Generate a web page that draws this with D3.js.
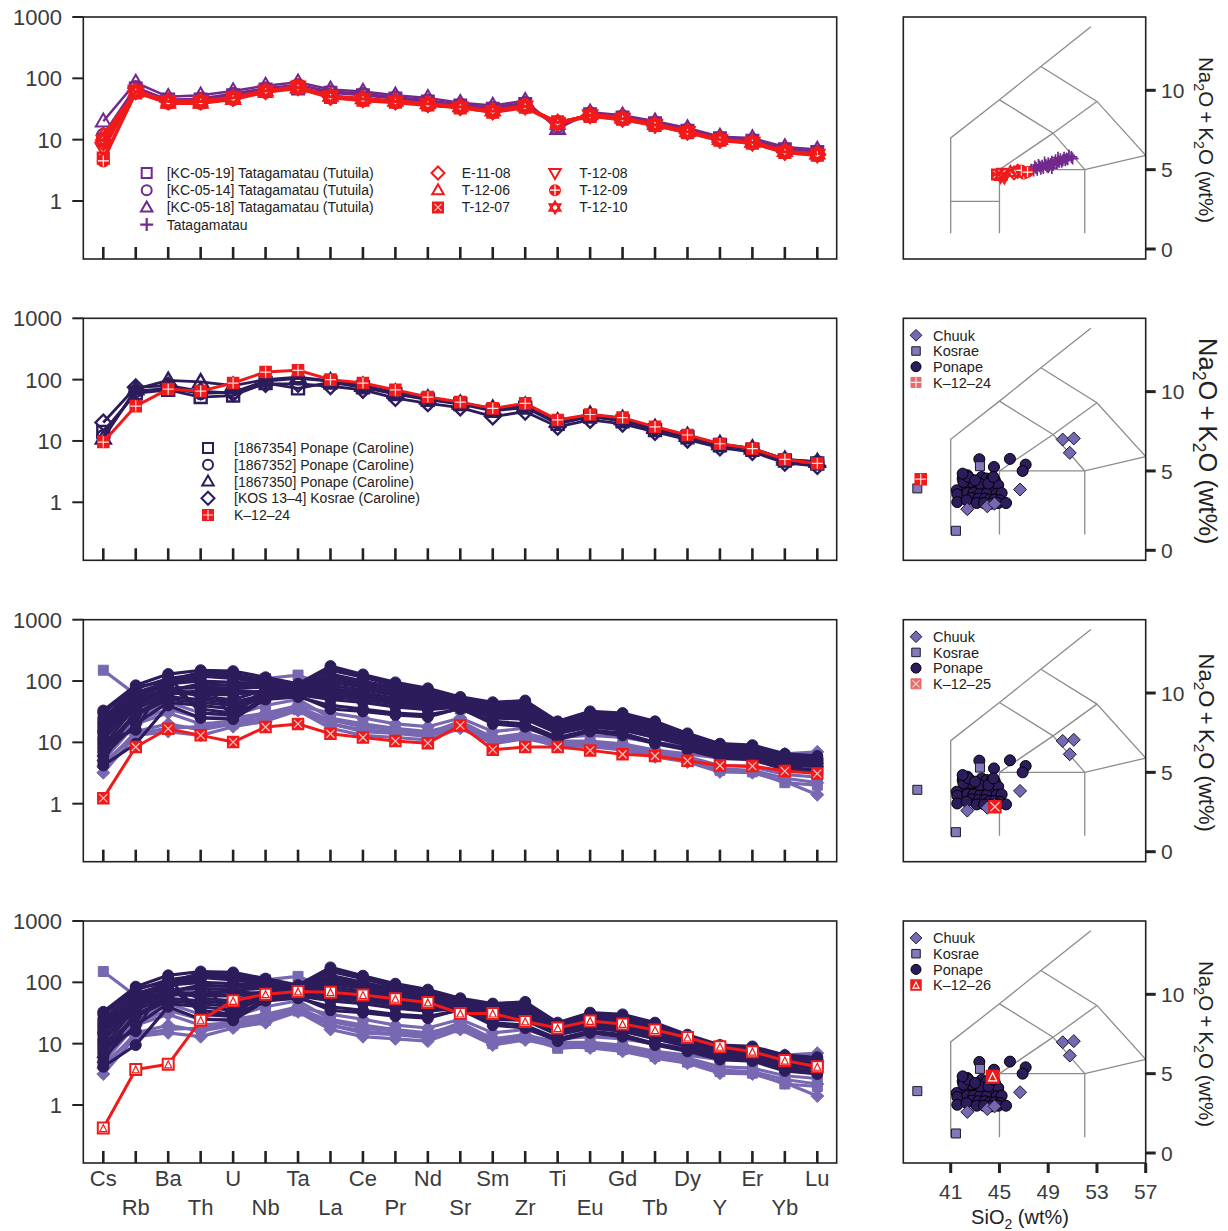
<!DOCTYPE html>
<html><head><meta charset="utf-8">
<script src="https://cdn.jsdelivr.net/npm/d3@7"></script>
<style>body{margin:0;background:#fff}svg{display:block;font-family:"Liberation Sans",Arial,Helvetica,sans-serif}</style>
</head><body><svg id="c" width="1228" height="1231"></svg>
<script>
// ---------------- DATA ----------------
const elements = ["Cs","Rb","Ba","Th","U","Nb","Ta","La","Ce","Pr","Nd","Sr","Sm","Zr","Ti","Eu","Gd","Tb","Dy","Y","Er","Yb","Lu"];
const yTickValues = [1, 10, 100, 1000];
const tasXTicks = [41, 45, 49, 53, 57];
const tasYTicks = [0, 5, 10];

// Panel 1 (Tutuila)
const kc0519 = [10, 68, 45, 45, 53, 66, 68, 58, 53, 47, 42, 36, 32, 38, 16, 26, 23, 18.5, 14, 10.5, 9.6, 7, 6.3];
const kc0514 = [12, 72, 44, 47, 56, 69, 78, 61, 56, 49, 44, 37, 33, 40, 16.5, 27, 24, 19, 14.5, 10.7, 9.8, 7, 6.4];
const kc0518 = [20, 85, 50, 53, 62, 76, 86, 66, 61, 53, 48, 40, 36, 43, 15, 28, 25, 20, 15.5, 11.2, 10.6, 7.6, 6.9];
const e1108 = [9, 62, 42, 42, 48, 62, 72, 50, 46, 42, 38, 34, 29, 35, 19, 25, 22, 17.5, 13.5, 10, 9, 6.4, 5.8];
const t1206 = [12, 60, 40, 40, 46, 60, 70, 52, 47, 43, 39, 35, 30, 36, 18, 26, 23, 18, 13.8, 10.2, 9.2, 6.5, 5.9];
const t1207 = [5, 58, 41, 41, 47, 61, 74, 49, 44, 41, 37, 33, 28, 34, 19.5, 24, 21.5, 17, 13, 9.8, 8.8, 6.2, 5.6];
const t1208 = [7, 63, 43, 43, 49, 63, 73, 51, 45, 42, 38, 34, 29, 35, 18.5, 25, 22, 17.5, 13.4, 9.9, 8.9, 6.3, 5.7];
const t1209 = [4.5, 59, 39, 39, 45, 59, 68, 48, 43, 40, 36, 33, 28, 33, 18, 24, 21, 17, 13, 9.6, 8.7, 6.1, 5.5];
const t1210 = [10, 61, 42, 42, 48, 62, 71, 50, 46, 42, 38, 34, 29, 35, 19, 25, 22, 17.4, 13.4, 10, 9, 6.3, 5.8];

// Panel 2 (Caroline)
const p1867354 = [14, 60, 68, 52, 55, 88, 72, 90, 75, 58, 47, 40, 31, 35, 19, 25, 21, 15, 11.5, 8.5, 7.2, 4.8, 4.3];
const p1867352 = [12, 65, 72, 60, 62, 95, 105, 95, 78, 60, 50, 42, 33, 38, 20, 26, 22, 16, 12, 8.8, 7.5, 5, 4.5];
const p1867350 = [11, 70, 97, 92, 80, 100, 110, 95, 80, 62, 50, 41, 34, 38, 21, 27, 23, 16.5, 12.2, 9, 7.6, 5, 4.6];
const kos134 = [20, 75, 80, 65, 60, 85, 85, 78, 68, 50, 41, 35, 25, 30, 17, 22, 19, 14, 10.5, 7.8, 6.6, 4.4, 3.9];
const k1224 = [9.6, 37, 70, 65, 88, 133, 142, 100, 88, 68, 52, 43, 34, 41, 22, 27, 24, 17, 12.5, 9, 7.5, 5, 4.3];

// Panels 3-4 comparison set
const ponapeSpider = [
  [33, 85, 130, 150, 145, 115, 90, 175, 128, 95, 76, 55, 45, 48, 22, 32, 30, 22, 14, 9.5, 9, 6.5, 6.0],
  [25, 75, 110, 130, 120, 100, 85, 150, 115, 85, 68, 50, 40, 42, 20, 29, 27, 20, 13, 9, 8.5, 6, 5.5],
  [20, 60, 90, 100, 95, 90, 80, 120, 95, 72, 60, 48, 36, 38, 19, 26, 24, 18, 12, 8.5, 8, 5.5, 5.0],
  [15, 50, 75, 80, 75, 80, 75, 95, 80, 62, 52, 45, 33, 34, 18, 24, 22, 16, 11, 8, 7.5, 5.2, 4.8],
  [12, 40, 65, 60, 60, 70, 70, 75, 65, 52, 45, 42, 30, 30, 16, 21, 20, 14, 10, 7.5, 7, 5, 4.5],
  [8, 30, 55, 50, 45, 60, 65, 60, 55, 45, 40, 40, 28, 27, 15, 20, 18, 13, 9.5, 7, 6.5, 4.6, 4.2],
  [6, 20, 45, 40, 35, 55, 60, 50, 45, 38, 34, 38, 25, 24, 14, 18, 16, 12, 9, 6.5, 6, 4.3, 4.0],
  [4.2, 9.5, 40, 25, 24, 50, 55, 40, 35, 30, 28, 35, 22, 20, 12, 16, 14, 10, 8, 6, 5.5, 4, 3.5],
  [10, 16, 120, 30, 28, 52, 58, 35, 32, 28, 26, 36, 20, 18, 11, 15, 13, 9.5, 7.5, 5.5, 5.2, 3.6, 3.2],
  [30, 80, 100, 140, 130, 105, 88, 160, 120, 88, 70, 52, 42, 45, 21, 30, 28, 21, 13.5, 9, 8.5, 6.2, 5.6],
  [18, 55, 85, 35, 30, 75, 72, 85, 72, 58, 48, 44, 32, 32, 17, 23, 21, 15, 10.5, 7.8, 7.2, 5.1, 4.6],
  [22, 65, 95, 110, 25, 85, 78, 110, 90, 68, 56, 46, 35, 36, 18, 25, 23, 17, 11.5, 8.2, 7.8, 5.4, 5.0],
  [5, 35, 60, 70, 70, 65, 68, 65, 60, 48, 42, 41, 29, 28, 15.5, 21, 19, 14, 10, 7.2, 6.8, 4.8, 4.4],
  [14, 45, 70, 90, 85, 85, 75, 100, 82, 64, 54, 47, 36, 40, 19, 27, 25, 19, 12.5, 8.6, 8, 5.6, 5.2],
  [9, 38, 80, 55, 50, 72, 70, 70, 62, 50, 44, 43, 31, 31, 17, 23, 21, 15, 10.5, 7.6, 7, 5, 4.6],
  [16, 58, 100, 120, 110, 95, 82, 130, 100, 78, 62, 50, 39, 41, 20, 28, 26, 19.5, 12.8, 8.8, 8.2, 5.8, 5.3],
  [7, 28, 50, 45, 40, 58, 62, 55, 50, 42, 37, 39, 27, 26, 14.5, 19, 17, 12.5, 9.2, 6.8, 6.3, 4.5, 4.1],
  [11, 42, 68, 65, 62, 68, 66, 72, 62, 50, 43, 42, 31, 29, 16, 22, 20, 14.5, 10.2, 7.4, 6.9, 4.9, 4.5]
];
const chuukSpider = [
  [3.2, 13, 15, 13, 18, 22, 33, 17, 13, 12, 11, 17, 9.5, 11.5, 9, 8.5, 7.5, 5.8, 4.8, 3.3, 3.2, 2.3, 1.4],
  [4, 15, 20, 16, 20, 25, 36, 20, 15, 14, 12.5, 19, 10.5, 13, 10, 9.5, 8.5, 6.5, 5.3, 3.7, 3.5, 2.6, 2.2],
  [5, 20, 30, 20, 22, 28, 38, 23, 18, 16, 14, 22, 12, 14, 10.5, 10.5, 9.5, 7.5, 6.5, 5.5, 5.5, 4.5, 4.0],
  [6, 22, 35, 25, 25, 30, 40, 30, 25, 20, 18, 25, 15, 17, 12, 13, 12, 10, 8.5, 7, 7.2, 6.5, 7.0]
];
const kosraeSpider = [
  [150, 60, 65, 80, 85, 110, 125, 80, 65, 50, 40, 35, 27, 30, 14, 18, 16, 12, 9, 6, 5.5, 3.8, 3.3],
  [4.5, 14, 17, 18, 20, 24, 34, 20, 16, 14.5, 13, 18, 10, 12.5, 8.4, 9, 8, 6.2, 5, 3.5, 3.3, 2.2, 2.0],
  [7, 25, 45, 30, 28, 40, 50, 25, 20, 17, 15, 20, 11, 13, 9.5, 10, 9, 7, 5.8, 4.2, 4, 3, 2.7]
];
const k1225 = [1.23, 8.4, 16.7, 13, 10.1, 17.8, 20, 13.8, 12, 10.5, 9.7, 18.9, 7.6, 8.4, 8.4, 7.4, 6.4, 6.0, 5.0, 4.2, 4.1, 3.4, 3.1];
const k1226 = [0.42, 3.8, 4.6, 24, 50, 64, 71, 69, 62, 54, 47, 31, 31, 23, 18, 23.5, 21, 16.7, 12.6, 8.9, 7.4, 5.3, 4.2];

// TAS data  [SiO2, Na2O+K2O]
const tatagamatauTAS = [[47.6,5.0],[47.8,4.95],[48.0,5.1],[48.1,5.0],[48.3,5.2],[48.4,5.05],[48.5,5.25],[48.6,5.1],[48.8,5.3],[48.9,5.2],[49.0,5.4],[49.1,5.25],[49.2,5.35],[49.3,5.5],[49.4,5.3],[49.5,5.45],[49.6,5.6],[49.7,5.4],[49.8,5.55],[49.9,5.5],[50.0,5.65],[50.1,5.5],[50.2,5.6],[50.3,5.75],[50.4,5.6],[50.5,5.7],[50.6,5.65],[49.0,5.15],[48.2,5.3],[49.8,5.75],[50.9,5.8],[47.9,5.2],[48.7,5.45],[49.3,5.1],[50.7,5.9],[51.0,5.7]];
const e1108TAS = [[46.5,4.9],[46.2,4.8]];
const t1206TAS = [[45.9,4.85]];
const t1207TAS = [[44.8,4.7],[45.2,4.75]];
const t1208TAS = [[45.4,4.5]];
const t1209TAS = [[47.0,4.75],[46.8,4.95],[47.3,4.85]];
const t1210TAS = [[45.1,4.55]];
const ponapeTAS = [[43.35,5.74],[45.86,5.76],[44.55,5.25],[47.15,5.40],[46.90,5.00],[42.37,4.73],[41.98,4.52],[42.58,4.52],[42.17,4.27],[43.54,4.62],[43.95,4.52],[44.36,4.52],[44.63,4.41],[42.26,3.99],[43.0,3.99],[43.4,3.89],[43.95,3.99],[44.5,3.89],[44.9,4.10],[41.49,3.78],[41.54,3.53],[42.37,3.61],[42.86,3.61],[43.4,3.57],[43.95,3.57],[44.77,3.57],[45.18,3.61],[42.72,3.30],[43.27,3.26],[43.81,3.26],[44.22,3.19],[44.58,3.19],[45.04,3.15],[41.54,3.04],[42.31,3.15],[43.13,2.98],[43.73,2.98],[44.36,2.94],[44.90,2.98],[45.54,2.98],[43.4,4.20],[42.72,4.31],[42.04,4.31],[42.45,4.62],[43.0,4.41],[41.98,4.83],[44.09,4.20],[44.5,4.62]];
const chuukTAS = [[50.19,6.98],[51.1,7.05],[50.77,6.14],[46.69,3.83],[44.0,2.77],[44.6,2.94],[42.36,2.59]];
const kosraeTAS = [[38.26,3.9],[41.43,1.23],[43.4,5.3]];
const k1224TAS = [[38.54,4.48]];
const k1225TAS = [[44.63,2.83]];
const k1226TAS = [[44.44,4.8]];

// ---------------- STYLE / LAYOUT ----------------
const PURPLE = "#72298c", RED = "#f11a1a", DARK = "#2d1c5b", LIGHT = "#7868b2", AX = "#222", TXT = "#3b3b3b";
const svg = d3.select("#c");
const tops = [17, 318.3, 619.7, 921];
const PH = 242;
const SPX0 = 83.3, SPX1 = 836.7;
const TX0 = 903.3, TX1 = 1145.7;
const xSp = d3.scalePoint().domain(elements).range([103.3, 817.3]);
const xTas = d3.scaleLinear().domain([37.11, 57]).range([TX0, TX1]);

function marker(g, type, x, y, s, color, o = {}) {
  const sw = o.sw ?? 1.8, fill = o.fill ?? "none", h = s / 2, stroke = o.stroke ?? color;
  const p = g.append("g").attr("transform", `translate(${x},${y})`);
  const path = d => p.append("path").attr("d", d).attr("fill", fill).attr("stroke", stroke).attr("stroke-width", sw).attr("stroke-linejoin", "miter");
  const inner = (d, c) => p.append("path").attr("d", d).attr("fill", "none").attr("stroke", c).attr("stroke-width", o.isw ?? 1.2);
  const sq = `M${-h},${-h}H${h}V${h}H${-h}Z`;
  switch (type) {
    case "square": path(sq); break;
    case "circle": p.append("circle").attr("r", h).attr("fill", fill).attr("stroke", stroke).attr("stroke-width", sw); break;
    case "triangle": path(`M0,${-h * 1.2}L${h * 1.15},${h * 0.8}L${-h * 1.15},${h * 0.8}Z`); break;
    case "dtriangle": path(`M0,${h * 1.2}L${h * 1.15},${-h * 0.8}L${-h * 1.15},${-h * 0.8}Z`); break;
    case "diamond": path(`M0,${-h * 1.3}L${h * 1.3},0L0,${h * 1.3}L${-h * 1.3},0Z`); break;
    case "plus": path(`M${-h},0H${h}M0,${-h}V${h}`); break;
    case "circleplus":
      p.append("circle").attr("r", h).attr("fill", color).attr("stroke", color).attr("stroke-width", sw);
      inner(`M${-h},0H${h}M0,${-h}V${h}`, "#fff"); break;
    case "star":
      path(`M0,${-h * 1.2}L${h * 1.1},${h * 0.65}L${-h * 1.1},${h * 0.65}Z`);
      path(`M0,${h * 1.2}L${h * 1.1},${-h * 0.65}L${-h * 1.1},${-h * 0.65}Z`); break;
    case "boxx":
      p.append("path").attr("d", sq).attr("fill", color).attr("stroke", color).attr("stroke-width", sw);
      inner(`M${-h + 1.5},${-h + 1.5}L${h - 1.5},${h - 1.5}M${h - 1.5},${-h + 1.5}L${-h + 1.5},${h - 1.5}`, "rgba(255,255,255,0.75)"); break;
    case "boxplus":
      p.append("path").attr("d", sq).attr("fill", color).attr("stroke", color).attr("stroke-width", sw);
      inner(`M${-h},0H${h}M0,${-h}V${h}`, "rgba(255,255,255,0.85)"); break;
    case "boxtri":
      p.append("path").attr("d", sq).attr("fill", o.fillSq ?? "#fff").attr("stroke", color).attr("stroke-width", sw);
      inner(`M0,${-h + 2}L${h - 2},${h - 2}L${-h + 2},${h - 2}Z`, o.triColor ?? color); break;
  }
}

// ---------------- SPIDER PANELS ----------------
function spiderPanel(top, seriesList, legend, showXLabels) {
  const g = svg.append("g");
  const y = d3.scaleLog().domain([Math.pow(10, -0.946), 1000]).range([top + PH, top]);
  const clip = "clip" + Math.round(top);
  svg.append("clipPath").attr("id", clip).append("rect").attr("x", SPX0).attr("y", top).attr("width", SPX1 - SPX0).attr("height", PH);
  const plot = g.append("g").attr("clip-path", `url(#${clip})`);
  const line = d3.line().x((d, i) => xSp(elements[i])).y(d => y(d));
  seriesList.forEach(s => {
    plot.append("path").datum(s.values).attr("d", line).attr("fill", "none")
      .attr("stroke", s.color).attr("stroke-width", s.lw ?? 2.5).attr("stroke-linejoin", "round");
    s.values.forEach((v, i) => marker(plot, s.shape, xSp(elements[i]), y(v), s.size ?? 11, s.color, s.mo ?? {}));
  });
  g.append("rect").attr("x", SPX0).attr("y", top).attr("width", SPX1 - SPX0).attr("height", PH)
    .attr("fill", "none").attr("stroke", AX).attr("stroke-width", 1.6);
  yTickValues.forEach(v => {
    g.append("line").attr("x1", SPX0 - 11).attr("x2", SPX0).attr("y1", y(v)).attr("y2", y(v)).attr("stroke", AX).attr("stroke-width", 2);
    g.append("text").attr("x", 62).attr("y", y(v)).attr("dy", "0.36em").attr("text-anchor", "end")
      .attr("font-size", 22).attr("fill", TXT).text(v);
  });
  elements.forEach(e => {
    g.append("line").attr("x1", xSp(e)).attr("x2", xSp(e)).attr("y1", top + PH - 12).attr("y2", top + PH)
      .attr("stroke", AX).attr("stroke-width", 2.6);
  });
  if (showXLabels) {
    elements.forEach((e, i) => {
      g.append("text").attr("x", xSp(e)).attr("y", top + PH + (i % 2 === 0 ? 15 : 44)).attr("dy", "0.36em")
        .attr("text-anchor", "middle").attr("font-size", 22).attr("fill", TXT).text(e);
    });
  }
  legend.forEach(L => {
    L.items.forEach((it, k) => {
      const yy = L.y + k * L.dy;
      marker(g, it.shape, L.sx, yy, it.size ?? 10, it.color, it.mo ?? {});
      g.append("text").attr("x", L.tx).attr("y", yy).attr("dy", "0.36em").attr("font-size", 14).attr("fill", "#222").text(it.name);
    });
  });
}

const redO = { sw: 2.2 };
const p1 = [
  { name: "[KC-05-19] Tatagamatau (Tutuila)", values: kc0519, color: PURPLE, shape: "square", size: 12, mo: { sw: 2 } },
  { name: "[KC-05-14] Tatagamatau (Tutuila)", values: kc0514, color: PURPLE, shape: "circle", size: 12, mo: { sw: 2 } },
  { name: "[KC-05-18] Tatagamatau (Tutuila)", values: kc0518, color: PURPLE, shape: "triangle", size: 13, mo: { sw: 2 } },
  { name: "E-11-08", values: e1108, color: RED, shape: "diamond", size: 12, mo: redO, lw: 3 },
  { name: "T-12-06", values: t1206, color: RED, shape: "triangle", size: 12, mo: redO, lw: 3 },
  { name: "T-12-07", values: t1207, color: RED, shape: "boxx", size: 11, mo: redO, lw: 3 },
  { name: "T-12-08", values: t1208, color: RED, shape: "dtriangle", size: 12, mo: redO, lw: 3 },
  { name: "T-12-09", values: t1209, color: RED, shape: "circleplus", size: 11, mo: redO, lw: 3 },
  { name: "T-12-10", values: t1210, color: RED, shape: "star", size: 12, mo: redO, lw: 3 }
];
const legO = { sw: 2 };
spiderPanel(tops[0], p1, [
  { sx: 146.7, tx: 166.7, y: tops[0] + 156, dy: 17.2, items: [
    { name: p1[0].name, shape: "square", color: PURPLE, mo: legO }, { name: p1[1].name, shape: "circle", color: PURPLE, mo: legO },
    { name: p1[2].name, shape: "triangle", color: PURPLE, mo: legO }, { name: "Tatagamatau", shape: "plus", color: PURPLE, size: 13, mo: { sw: 2.2 } }] },
  { sx: 438, tx: 461.7, y: tops[0] + 156, dy: 17.2, items: [
    { name: "E-11-08", shape: "diamond", color: RED, mo: legO }, { name: "T-12-06", shape: "triangle", color: RED, mo: legO },
    { name: "T-12-07", shape: "boxx", color: RED, mo: legO }] },
  { sx: 555, tx: 579.3, y: tops[0] + 156, dy: 17.2, items: [
    { name: "T-12-08", shape: "dtriangle", color: RED, mo: legO }, { name: "T-12-09", shape: "circleplus", color: RED, mo: legO },
    { name: "T-12-10", shape: "star", color: RED, mo: legO }] }
], false);

const p2 = [
  { name: "[1867354] Ponape (Caroline)", values: p1867354, color: DARK, shape: "square", size: 12, mo: { sw: 2.4 }, lw: 2.8 },
  { name: "[1867352] Ponape (Caroline)", values: p1867352, color: DARK, shape: "circle", size: 12, mo: { sw: 2.4 }, lw: 2.8 },
  { name: "[1867350] Ponape (Caroline)", values: p1867350, color: DARK, shape: "triangle", size: 13, mo: { sw: 2.4 }, lw: 2.8 },
  { name: "[KOS 13\u20134] Kosrae (Caroline)", values: kos134, color: DARK, shape: "diamond", size: 12, mo: { sw: 2.4 }, lw: 2.8 },
  { name: "K\u201312\u201324", values: k1224, color: RED, shape: "boxplus", size: 11, mo: { sw: 1.6 }, lw: 3 }
];
spiderPanel(tops[1], p2, [
  { sx: 208, tx: 234, y: tops[1] + 129.7, dy: 16.75, items: p2.map(s => ({ name: s.name, shape: s.shape, color: s.color, mo: { sw: 2 }, size: 10 })) }
], false);

function comparisonSeries() {
  const out = [];
  kosraeSpider.forEach(v => out.push({ values: v, color: LIGHT, shape: "square", size: 10, mo: { fill: LIGHT, sw: 1 }, lw: 3.2 }));
  chuukSpider.forEach(v => out.push({ values: v, color: LIGHT, shape: "diamond", size: 10, mo: { fill: LIGHT, sw: 1 }, lw: 3.2 }));
  ponapeSpider.forEach(v => out.push({ values: v, color: DARK, shape: "circle", size: 11, mo: { fill: DARK, sw: 1 }, lw: 3.2 }));
  return out;
}
spiderPanel(tops[2], comparisonSeries().concat([{ values: k1225, color: RED, shape: "boxx", size: 11, mo: { sw: 1.5 }, lw: 3 }]), [], false);
spiderPanel(tops[3], comparisonSeries().concat([{ values: k1226, color: RED, shape: "boxtri", size: 11, mo: { sw: 2, fillSq: "#fff" }, lw: 3 }]), [], true);

// ---------------- TAS PANELS ----------------
const tasLines = [
  [[41, 1], [41, 7], [45, 9.4], [48.4, 11.5], [52.5, 14]],
  [[41, 3], [45, 3]],
  [[45, 1], [45, 5], [52, 5], [57, 5.9]],
  [[52, 1], [52, 5]],
  [[45, 5], [49.4, 7.3], [53, 9.3]],
  [[45, 9.4], [49.4, 7.3], [52, 5]],
  [[48.4, 11.5], [53, 9.3], [57, 5.9]]
];
function tasPanel(top, groups, legend, labelSize, showX) {
  const g = svg.append("g");
  const y = d3.scaleLinear().domain([-0.63, 14.62]).range([top + PH, top]);
  const clip = "tclip" + Math.round(top);
  svg.append("clipPath").attr("id", clip).append("rect").attr("x", TX0).attr("y", top).attr("width", TX1 - TX0).attr("height", PH);
  const plot = g.append("g").attr("clip-path", `url(#${clip})`);
  const ln = d3.line().x(d => xTas(d[0])).y(d => y(d[1]));
  tasLines.forEach(l => plot.append("path").attr("d", ln(l)).attr("fill", "none").attr("stroke", "#8c8c8c").attr("stroke-width", 1.3));
  groups.forEach(gr => gr.pts.forEach(p => marker(plot, gr.shape, xTas(p[0]), y(p[1]), gr.size, gr.color, gr.mo)));
  g.append("rect").attr("x", TX0).attr("y", top).attr("width", TX1 - TX0).attr("height", PH)
    .attr("fill", "none").attr("stroke", AX).attr("stroke-width", 1.6);
  tasYTicks.forEach(v => {
    g.append("line").attr("x1", TX1).attr("x2", TX1 + 10).attr("y1", y(v)).attr("y2", y(v)).attr("stroke", AX).attr("stroke-width", 3);
    g.append("text").attr("x", 1161).attr("y", y(v)).attr("dy", "0.36em").attr("font-size", 21).attr("fill", TXT).text(v);
  });
  const lab = g.append("text").attr("transform", `translate(1199,${top + 123}) rotate(90)`).attr("text-anchor", "middle")
    .attr("font-size", labelSize).attr("fill", "#222");
  lab.append("tspan").text("Na");
  lab.append("tspan").attr("font-size", labelSize * 0.7).attr("dy", labelSize * 0.25).text("2");
  lab.append("tspan").attr("dy", -labelSize * 0.25).text("O\u2009+\u2009K");
  lab.append("tspan").attr("font-size", labelSize * 0.7).attr("dy", labelSize * 0.25).text("2");
  lab.append("tspan").attr("dy", -labelSize * 0.25).text("O (wt%)");
  if (showX) {
    tasXTicks.forEach(v => {
      g.append("line").attr("x1", xTas(v)).attr("x2", xTas(v)).attr("y1", top + PH).attr("y2", top + PH + 10).attr("stroke", AX).attr("stroke-width", 3);
      g.append("text").attr("x", xTas(v)).attr("y", top + PH + 28).attr("dy", "0.36em").attr("text-anchor", "middle").attr("font-size", 21).attr("fill", TXT).text(v);
    });
    const xl = g.append("text").attr("x", 1020).attr("y", top + PH + 61).attr("text-anchor", "middle").attr("font-size", 20).attr("fill", "#222");
    xl.append("tspan").text("SiO");
    xl.append("tspan").attr("font-size", 14).attr("dy", 5).text("2");
    xl.append("tspan").attr("dy", -5).text(" (wt%)");
  }
  if (legend) {
    legend.forEach((it, k) => {
      const yy = top + 17 + k * 15.7;
      marker(g, it.shape, 916, yy, it.size, it.color, it.mo);
      g.append("text").attr("x", 933).attr("y", yy).attr("dy", "0.36em").attr("font-size", 14.5).attr("fill", "#222").text(it.name);
    });
  }
}

const tas1 = [
  { pts: tatagamatauTAS, shape: "plus", size: 12, color: PURPLE, mo: { sw: 1.7 } },
  { pts: t1207TAS, shape: "boxx", size: 10, color: RED, mo: { sw: 2 } },
  { pts: t1210TAS, shape: "star", size: 10, color: RED, mo: { sw: 2 } },
  { pts: t1208TAS, shape: "dtriangle", size: 10, color: RED, mo: { sw: 2 } },
  { pts: t1206TAS, shape: "triangle", size: 10, color: RED, mo: { sw: 2 } },
  { pts: e1108TAS, shape: "diamond", size: 10, color: RED, mo: { sw: 2 } },
  { pts: t1209TAS, shape: "circleplus", size: 10, color: RED, mo: { sw: 2 } }
];
tasPanel(tops[0], tas1, null, 20.5, false);

const baseGroups = [
  { pts: ponapeTAS, shape: "circle", size: 11, color: DARK, mo: { fill: DARK, stroke: "#000", sw: 1 } },
  { pts: kosraeTAS, shape: "square", size: 9, color: LIGHT, mo: { fill: "#8578b8", stroke: "#1a1a2e", sw: 1 } },
  { pts: chuukTAS, shape: "diamond", size: 10, color: LIGHT, mo: { fill: LIGHT, stroke: "#1a1a2e", sw: 1 } }
];
const baseLegend = [
  { name: "Chuuk", shape: "diamond", size: 9, color: LIGHT, mo: { fill: LIGHT, stroke: "#1a1a2e", sw: 1 } },
  { name: "Kosrae", shape: "square", size: 8.5, color: LIGHT, mo: { fill: "#8578b8", stroke: "#1a1a2e", sw: 1 } },
  { name: "Ponape", shape: "circle", size: 10, color: DARK, mo: { fill: DARK, stroke: "#000", sw: 1 } }
];
tasPanel(tops[1], baseGroups.concat([{ pts: k1224TAS, shape: "boxplus", size: 11, color: RED, mo: { sw: 1.5 } }]),
  baseLegend.concat([{ name: "K\u201312\u201324", shape: "boxplus", size: 10, color: "#e86a6a", mo: { sw: 1 } }]), 25.5, false);
tasPanel(tops[2], baseGroups.concat([{ pts: k1225TAS, shape: "boxx", size: 12, color: RED, mo: { sw: 1.5 } }]),
  baseLegend.concat([{ name: "K\u201312\u201325", shape: "boxx", size: 10, color: "#e86a6a", mo: { sw: 1 } }]), 22, false);
tasPanel(tops[3], baseGroups.concat([{ pts: k1226TAS, shape: "boxtri", size: 12, color: RED, mo: { sw: 2, fillSq: RED, triColor: "#fff" } }]),
  baseLegend.concat([{ name: "K\u201312\u201326", shape: "boxtri", size: 10, color: RED, mo: { sw: 1.5, fillSq: RED, triColor: "#fff" } }]), 20.5, true);
</script></body></html>
